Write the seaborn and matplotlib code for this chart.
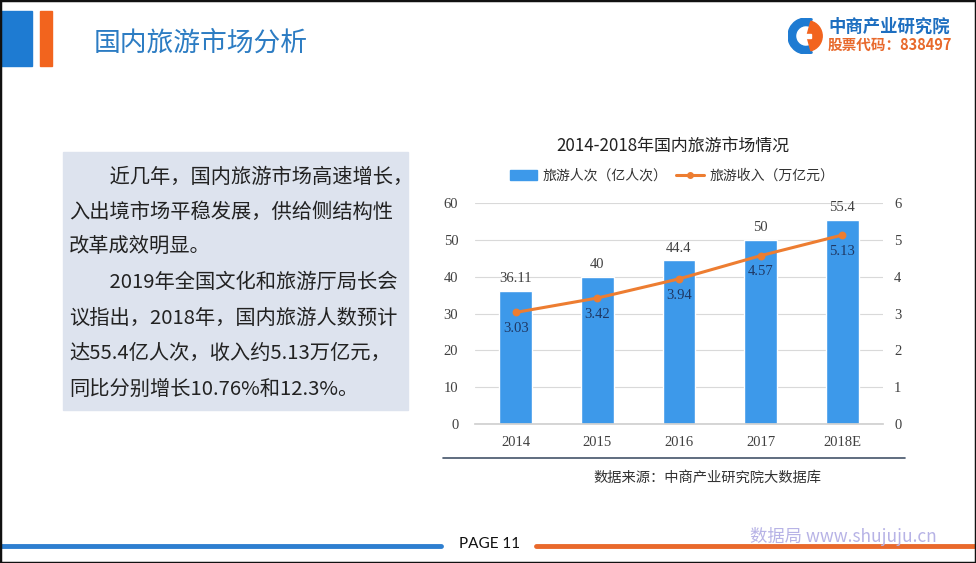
import matplotlib
matplotlib.use("Agg")
import matplotlib.pyplot as plt
import seaborn as sns
import numpy as np
import pandas as pd
from matplotlib.patches import Rectangle, Wedge, Patch
from matplotlib.lines import Line2D

# ---- data ----
years = ["2014", "2015", "2016", "2017", "2018E"]
visits = [36.11, 40, 44.4, 50, 55.4]            # 旅游人次（亿人次）
revenue = [3.03, 3.42, 3.94, 4.57, 5.13]        # 旅游收入（万亿元）
visit_labels = ["36.11", "40", "44.4", "50", "55.4"]
rev_labels = ["3.03", "3.42", "3.94", "4.57", "5.13"]
left_ticks = [0, 10, 20, 30, 40, 50, 60]
right_ticks = [0, 1, 2, 3, 4, 5, 6]

sns.set_theme(style="white")
plt.rcParams['font.family'] = ['Noto Sans CJK SC', 'DejaVu Sans']
plt.rcParams['axes.unicode_minus'] = False

W, H = 976, 563
fig = plt.figure(figsize=(W / 100, H / 100), dpi=100)
fig.patch.set_facecolor("white")

def fx(x):
    return x / W

def fy(y):
    return 1 - y / H

BAR = "#3D99EA"
ORANGE = "#ED7D31"
TXT = "#404040"
NUMFONT = ['Liberation Serif', 'Noto Sans CJK SC']

# ---- header decorations ----
fig.patches.append(Rectangle((fx(0), fy(66)), fx(32), 55 / H, transform=fig.transFigure,
                             color="#1E7BD2", zorder=1))
fig.patches.append(Rectangle((fx(40), fy(66)), fx(12), 55 / H, transform=fig.transFigure,
                             color="#F2641E", zorder=1))
fig.text(fx(94), fy(43), "国内旅游市场分析", fontsize=19.3, color="#2C7CC3",
         va="center", ha="left")

# logo
logo_ax = fig.add_axes([fx(788), fy(54), fx(36), 36 / H])
logo_ax.set_xlim(-1, 1)
logo_ax.set_ylim(-1, 1)
logo_ax.set_aspect("equal")
logo_ax.axis("off")
logo_ax.add_patch(Wedge((0, 0), 1.0, 70, 290, width=0.42, color="#1E7BD2"))
logo_ax.add_patch(Wedge((0.05, 0), 0.85, -75, 75, color="#F2641E"))
logo_ax.add_patch(Rectangle((-0.05, -0.1), 0.35, 0.2, color="white"))
fig.text(fx(828), fy(27), "中商产业研究院", fontsize=12.5, color="#1E6FC0",
         va="center", ha="left", fontweight="bold")
fig.text(fx(828), fy(45), "股票代码：838497", fontsize=10.5, color="#E8692C",
         va="center", ha="left", fontweight="bold")

# ---- text box ----
fig.patches.append(Rectangle((fx(63), fy(410)), fx(408 - 63), (410 - 152) / H,
                             transform=fig.transFigure, color="#DDE3EE", zorder=0))
lines = [
    ("　　近几年，国内旅游市场高速增长，", 177),
    ("入出境市场平稳发展，供给侧结构性", 212),
    ("改革成效明显。", 246),
    ("　　2019年全国文化和旅游厅局长会", 283),
    ("议指出，2018年，国内旅游人数预计", 318),
    ("达55.4亿人次，收入约5.13万亿元，", 353),
    ("同比分别增长10.76%和12.3%。", 389),
]
for s, y in lines:
    fig.text(fx(69), fy(y), s, fontsize=14.6, color="#222222", va="center", ha="left")

# ---- chart ----
ax = fig.add_axes([fx(475), fy(424), fx(883 - 475), (424 - 203) / H])
df = pd.DataFrame({"year": years, "visits": visits, "revenue": revenue})
sns.barplot(data=df, x="year", y="visits", ax=ax, color=BAR, width=0.4,
            saturation=1, zorder=2)
ax.set_ylim(0, 60)
ax.set_xlim(-0.5, len(years) - 0.5)
ax.set_yticks(left_ticks)
ax.set_yticklabels([str(t) for t in left_ticks], fontsize=10.5, color=TXT, family=NUMFONT)
ax.set_xticks(range(len(years)))
ax.set_xticklabels(years, fontsize=10.5, color=TXT, family=NUMFONT)
ax.tick_params(axis="both", length=0, pad=12)
ax.tick_params(axis="x", pad=9)
ax.yaxis.grid(True, color="#D9D9D9", linewidth=0.8, zorder=0)
ax.set_axisbelow(True)
for sp in ["top", "right", "left"]:
    ax.spines[sp].set_visible(False)
ax.spines["bottom"].set_color("#D0D0D0")
ax.set_xlabel("")
ax.set_ylabel("")
ax.patch.set_alpha(0)

for i, lab in enumerate(visit_labels):
    ax.annotate(lab, (i, visits[i]), xytext=(0, 4), textcoords="offset points",
                ha="center", va="bottom", fontsize=10.5, color=TXT, family=NUMFONT)

ax2 = ax.twinx()
sns.pointplot(data=df, x="year", y="revenue", ax=ax2, color=ORANGE,
              markers="o", markersize=4, linewidth=2.2, errorbar=None)
ax2.set_ylim(0, 6)
ax2.set_xlim(-0.5, len(years) - 0.5)
ax2.set_yticks(right_ticks)
ax2.set_yticklabels([str(t) for t in right_ticks], fontsize=10.5, color=TXT, family=NUMFONT)
ax2.tick_params(axis="y", length=0, pad=8)
for sp in ["top", "right", "left", "bottom"]:
    ax2.spines[sp].set_visible(False)
ax2.set_xlabel("")
ax2.set_ylabel("")
ax2.grid(False)
for i, lab in enumerate(rev_labels):
    ax2.annotate(lab, (i, revenue[i]), xytext=(0, -7), textcoords="offset points",
                 ha="center", va="top", fontsize=10.5, color="#1F3864", family=NUMFONT)

# chart title & legend
fig.text(fx(673), fy(146), "2014-2018年国内旅游市场情况", fontsize=12.2, color="#222222",
         ha="center", va="center")
handles = [Patch(facecolor=BAR, edgecolor=BAR),
           Line2D([0], [0], color=ORANGE, marker="o", markersize=4, linewidth=2.2)]
fig.legend(handles, ["旅游人次（亿人次）", "旅游收入（万亿元）"], loc="center",
           bbox_to_anchor=(fx(672), fy(176)), ncol=2, frameon=False, fontsize=10,
           handlelength=2.0, handletextpad=0.4, columnspacing=0.6, labelcolor="#333333")

# line under chart & source
fig.add_artist(Line2D([fx(443), fx(905)], [fy(458), fy(458)], transform=fig.transFigure,
                      color="#44546A", linewidth=1.2))
fig.text(fx(707), fy(478), "数据来源：中商产业研究院大数据库", fontsize=10.3, color="#333333",
         ha="center", va="center")

# footer
fig.add_artist(Line2D([fx(0), fx(441)], [fy(546), fy(546)], transform=fig.transFigure,
                      color="#2E7FD0", linewidth=3.5))
fig.add_artist(Line2D([fx(536), fx(976)], [fy(546), fy(546)], transform=fig.transFigure,
                      color="#E9692C", linewidth=3.5))
fig.text(fx(459), fy(544), "PAGE 11", fontsize=11, color="#111111", ha="left", va="center",
         family=['Lato', 'DejaVu Sans'])
fig.text(fx(750), fy(537), "数据局 www.shujuju.cn", fontsize=12.5, color="#B7B3E6",
         ha="left", va="center")

# outer frame
fig.patches.append(Rectangle((0, 0), 1, 1, transform=fig.transFigure, fill=False,
                             edgecolor="#111111", linewidth=2.5, zorder=10))

fig.savefig("out.png", dpi=100, facecolor="white")
